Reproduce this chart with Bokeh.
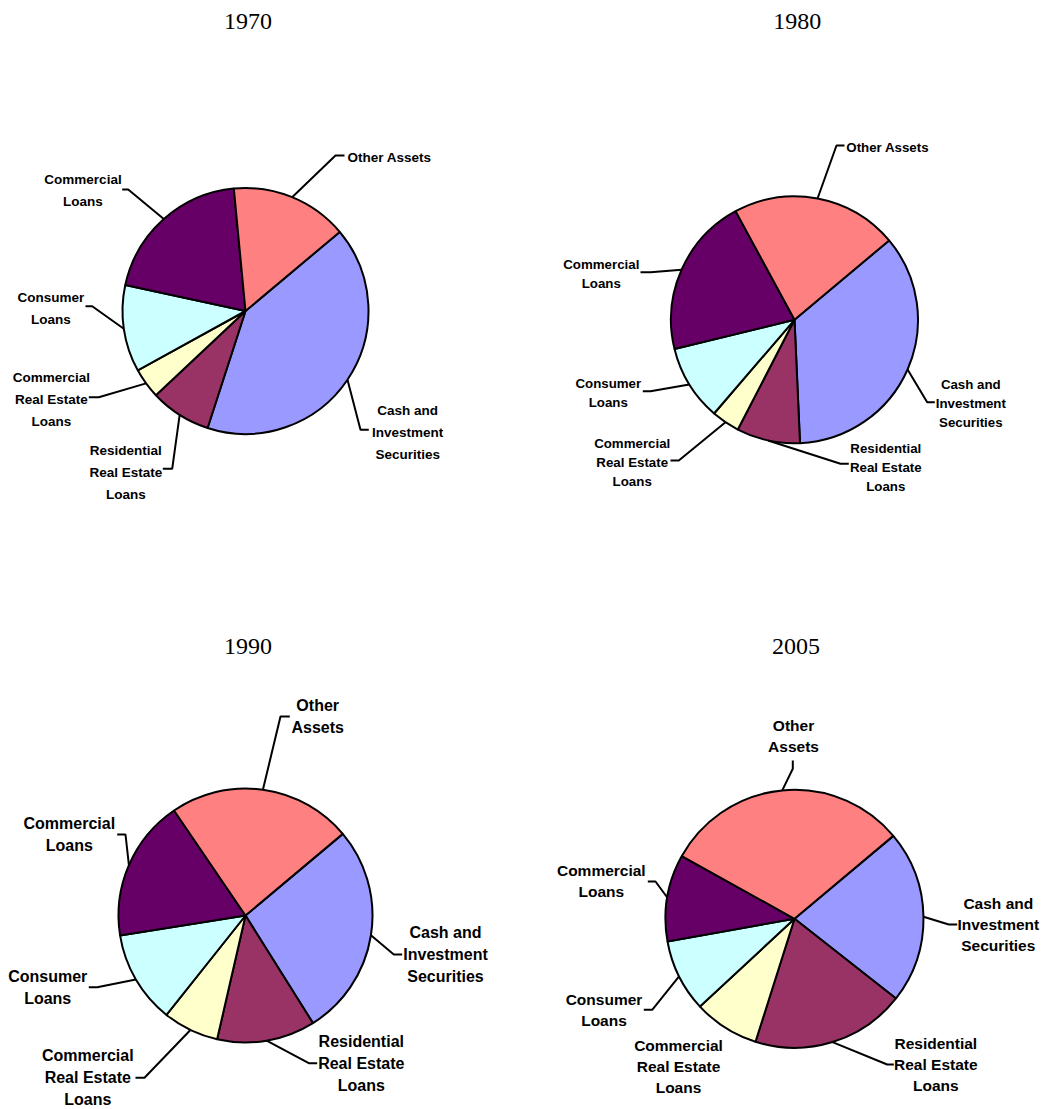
import numpy as np
from bokeh.plotting import figure
from bokeh.models import ColumnDataSource, Range1d
from bokeh.core.properties import value
from bokeh.embed import file_html
from bokeh.resources import INLINE

# ---------------- data ----------------
years = ["1970", "1980", "1990", "2005"]
categories = ["Cash and Investment Securities", "Residential Real Estate Loans",
              "Commercial Real Estate Loans", "Consumer Loans",
              "Commercial Loans", "Other Assets"]
cash = [41.1, 35.4, 27.2, 21.7]
residential = [8.0, 8.3, 12.5, 19.3]
commercial_re = [4.0, 3.7, 7.1, 8.2]
consumer = [11.4, 9.9, 11.8, 9.1]
commercial = [20.1, 20.9, 18.0, 10.9]
other = [15.4, 21.8, 23.4, 30.8]

labels_short = ["Cash and\nInvestment\nSecurities", "Residential\nReal Estate\nLoans",
                "Commercial\nReal Estate\nLoans", "Consumer\nLoans",
                "Commercial\nLoans", "Other Assets"]
labels_tall = labels_short[:5] + ["Other\nAssets"]

colors = ["#9999FF", "#993366", "#FFFFCC", "#CCFFFF", "#660066", "#FF8080"]
first_slice_angle = 50.0  # degrees clockwise from 12 o'clock

# ---------------- layout (page pixels) ----------------
W, H = 1045, 1109


def px(X, Y):
    return X, H - Y


layout = [
    dict(center=(245, 310.5), r=123, fs=13.5, lh=22, labels=labels_short,
         title=(247.5, 21),
         lab=[(407.2, 431.5), (125.3, 471.5), (50.8, 399.3), (50.3, 308.3), (82.5, 190.2), (389, 157)],
         lead=[((360, 429.3), (368.3, 429.3)), ((171.7, 468.3), (162.3, 468.3)),
               ((98.3, 396.7), (88.3, 396.7)), ((91.7, 305.7), (85, 305.7)),
               ((127.7, 189), (121.7, 189)), ((335, 155), (344, 155))]),
    dict(center=(794, 319.3), r=123.5, fs=13.3, lh=19, labels=labels_short,
         title=(796.7, 21),
         lab=[(970.3, 403.3), (885.3, 466.7), (631.7, 461.7), (607.8, 392.3), (600.8, 273.8), (887.2, 146.7)],
         lead=[((926.7, 401.7), (934.3, 401.7)), ((840, 463.3), (848.3, 463.3)),
               ((678.3, 460), (670, 460)), ((650, 390.7), (642.3, 390.7)),
               ((650, 271.7), (640, 271.7)), ((836, 145), (844, 145))]),
    dict(center=(245, 915), r=127, fs=16, lh=22, labels=labels_tall,
         title=(247.5, 646),
         lab=[(445, 954), (360.8, 1062.7), (87.3, 1076.7), (47.2, 986.7), (68.8, 833.5), (317.2, 715.8)],
         lead=[((393.3, 954), (401.7, 954)), ((308.3, 1062.7), (316.7, 1062.7)),
               ((144, 1077.3), (135, 1077.3)), ((96.7, 986.7), (88.3, 986.7)),
               ((125, 834), (116.7, 834)), ((280, 716), (289.3, 716))]),
    dict(center=(794, 918.3), r=129, fs=15.5, lh=21, labels=labels_tall,
         title=(795.5, 646),
         lab=[(997.8, 924), (935.3, 1064), (678, 1066), (603.5, 1009.2), (600.8, 880.5), (793, 735.3)],
         lead=[((948.3, 924), (956.7, 924)), ((886.7, 1064), (893.3, 1064)),
               None, ((651.7, 1009.3), (643.3, 1009.3)),
               ((655, 881), (647.3, 881)), ((792.3, 768.3), (792.3, 760))]),
]

p = figure(width=W, height=H, output_backend="svg", toolbar_location=None,
           x_range=Range1d(0, W), y_range=Range1d(0, H),
           x_axis_location=None, y_axis_location=None, min_border=0)
p.grid.visible = False
p.outline_line_color = None
p.background_fill_color = "white"
p.border_fill_color = "white"

series = [cash, residential, commercial_re, consumer, commercial, other]

for i, yr in enumerate(years):
    L = layout[i]
    vals = np.array([s[i] for s in series], dtype=float)
    frac = vals / vals.sum() * 360.0
    theta_end = first_slice_angle + np.cumsum(frac)
    theta_start = theta_end - frac
    cx, cy = px(*L["center"])
    r = L["r"]
    src = ColumnDataSource(dict(
        x=[cx] * 6, y=[cy] * 6,
        start=np.radians(90.0 - theta_end), end=np.radians(90.0 - theta_start),
        color=colors, cat=categories))
    p.wedge(x="x", y="y", radius=r, start_angle="start", end_angle="end",
            direction="anticlock", fill_color="color",
            line_color="black", line_width=2, source=src)

    # leader lines
    mids = np.radians((theta_start + theta_end) / 2.0)
    xs, ys = [], []
    for k in range(6):
        ld = L["lead"][k]
        if ld is None:
            continue
        sx = cx + r * np.sin(mids[k])
        sy = cy + r * np.cos(mids[k])
        ex, ey = px(*ld[0])
        fx, fy = px(*ld[1])
        xs.append([sx, ex, fx])
        ys.append([sy, ey, fy])
    p.multi_line(xs=xs, ys=ys, line_color="black", line_width=2)

    # labels, one text per line
    tx_l, ty_l, tt_l = [], [], []
    for k, lab in enumerate(L["labels"]):
        lines = lab.split("\n")
        n = len(lines)
        bx, by = L["lab"][k]
        for j, ln in enumerate(lines):
            X, Y = px(bx, by + (j - (n - 1) / 2.0) * L["lh"])
            tx_l.append(X)
            ty_l.append(Y)
            tt_l.append(ln)
    p.text(x=tx_l, y=ty_l, text=tt_l, text_align="center", text_baseline="middle",
           text_font=value("Liberation Sans"), text_font_style="bold",
           text_font_size=f"{L['fs']}px", text_color="black")

    # title
    tx, ty = px(*L["title"])
    p.text(x=[tx], y=[ty], text=[yr], text_align="center", text_baseline="middle",
           text_font=value("Liberation Serif"), text_font_size="24px", text_color="black")

open("out.html", "w").write(file_html(p, INLINE))
